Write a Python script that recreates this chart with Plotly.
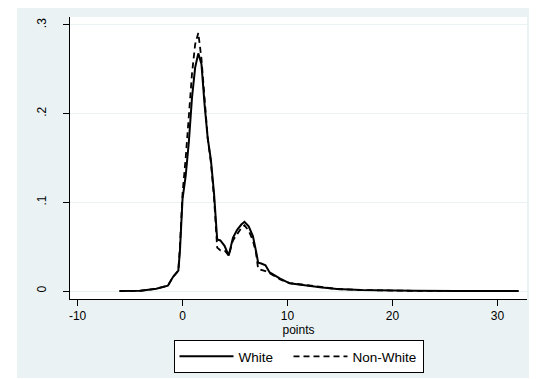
import plotly.graph_objects as go

# kernel density estimates
points = [-6, -4, -2.5, -1.4, -0.9, -0.4, -0.25, 0, 0.3, 0.6, 0.9, 1.2, 1.5, 1.8,
          2.1, 2.4, 2.7, 3.0, 3.3, 3.6, 4.0, 4.4, 4.8, 5.2, 5.6, 5.9, 6.3, 6.7,
          7.0, 7.2, 7.5, 7.9, 8.3, 8.8, 9.3, 10.2, 11.2, 12.0, 13.1, 14.7, 17,
          19, 22, 26, 32]
white = [0.0, 0.0003, 0.0026, 0.006, 0.016, 0.023, 0.045, 0.104, 0.13, 0.168,
         0.218, 0.252, 0.268, 0.256, 0.21, 0.172, 0.148, 0.11, 0.058, 0.057,
         0.051, 0.040, 0.060, 0.069, 0.075, 0.078, 0.073, 0.062, 0.045, 0.032,
         0.031, 0.029, 0.021, 0.017, 0.014, 0.0087, 0.0076, 0.006, 0.0042,
         0.0023, 0.0011, 0.0004, 0.0002, 0.0001, 0.0]
non_white = [0.0, 0.0003, 0.0026, 0.006, 0.016, 0.023, 0.05, 0.11, 0.15, 0.2,
             0.245, 0.278, 0.291, 0.262, 0.212, 0.172, 0.145, 0.105, 0.049,
             0.046, 0.046, 0.040, 0.057, 0.064, 0.071, 0.074, 0.068, 0.057,
             0.043, 0.025, 0.024, 0.0225, 0.02, 0.016, 0.013, 0.009, 0.0075,
             0.006, 0.0042, 0.0023, 0.0011, 0.0004, 0.0002, 0.0001, 0.0]

y_ticks = [0, 0.1, 0.2, 0.3]
y_labels = ["0", ".1", ".2", ".3"]
x_ticks = [-10, 0, 10, 20, 30]
x_labels = ["-10", "0", "10", "20", "30"]

BG = "#eaf2f3"
FONT = "Liberation Sans, Arial, sans-serif"

fig = go.Figure()

fig.add_trace(go.Scatter(
    x=points, y=white, mode="lines", name="White",
    line=dict(color="black", width=2), legendwidth=45
))
fig.add_trace(go.Scatter(
    x=points, y=non_white, mode="lines", name="Non-White",
    line=dict(color="black", width=1.8, dash="6px,4px"), legendwidth=65
))

# page body has an 8px margin, so the figure is sized to fill the rest
W, H = 529, 371
L, R, T, B = 62, 10, 9, 80
pw, ph = W - L - R, H - T - B


def px_x(p):
    return (p - L) / pw


def px_y(p):
    return (H - B - p) / ph


# white strip left of the grey graph region
fig.add_shape(type="rect", xref="paper", yref="paper",
              x0=px_x(-5), x1=px_x(9), y0=px_y(380), y1=px_y(-10),
              fillcolor="white", line_width=0, layer="below")
fig.add_shape(type="rect", xref="paper", yref="paper",
              x0=px_x(-5), x1=px_x(540), y0=px_y(380), y1=px_y(370),
              fillcolor="white", line_width=0, layer="below")

fig.update_layout(
    width=W, height=H,
    margin=dict(l=L, r=R, t=T, b=B, autoexpand=False),
    paper_bgcolor=BG,
    plot_bgcolor="white",
    font=dict(family=FONT, size=12, color="black"),
    showlegend=True,
    legend=dict(
        orientation="h", x=0.5, xanchor="center", y=px_y(332), yanchor="top",
        bgcolor="white", bordercolor="black", borderwidth=1,
        font=dict(size=13.5), itemwidth=54, traceorder="normal"
    ),
)

fig.update_xaxes(
    range=[-10.72, 32.81], tickvals=x_ticks, ticktext=x_labels,
    showgrid=False, zeroline=False,
    showline=True, linecolor="black", linewidth=1,
    ticks="outside", ticklen=6, tickcolor="black",
    title=dict(text="points", font=dict(size=12), standoff=2),
)
fig.update_yaxes(
    range=[-0.009, 0.309], tickvals=y_ticks, ticktext=y_labels,
    tickangle=-90,
    showgrid=True, gridcolor=BG, gridwidth=1, zeroline=False,
    showline=True, linecolor="black", linewidth=1,
    ticks="outside", ticklen=6, tickcolor="black",
    ticklabelstandoff=12,
)

fig.write_html("out.html")
